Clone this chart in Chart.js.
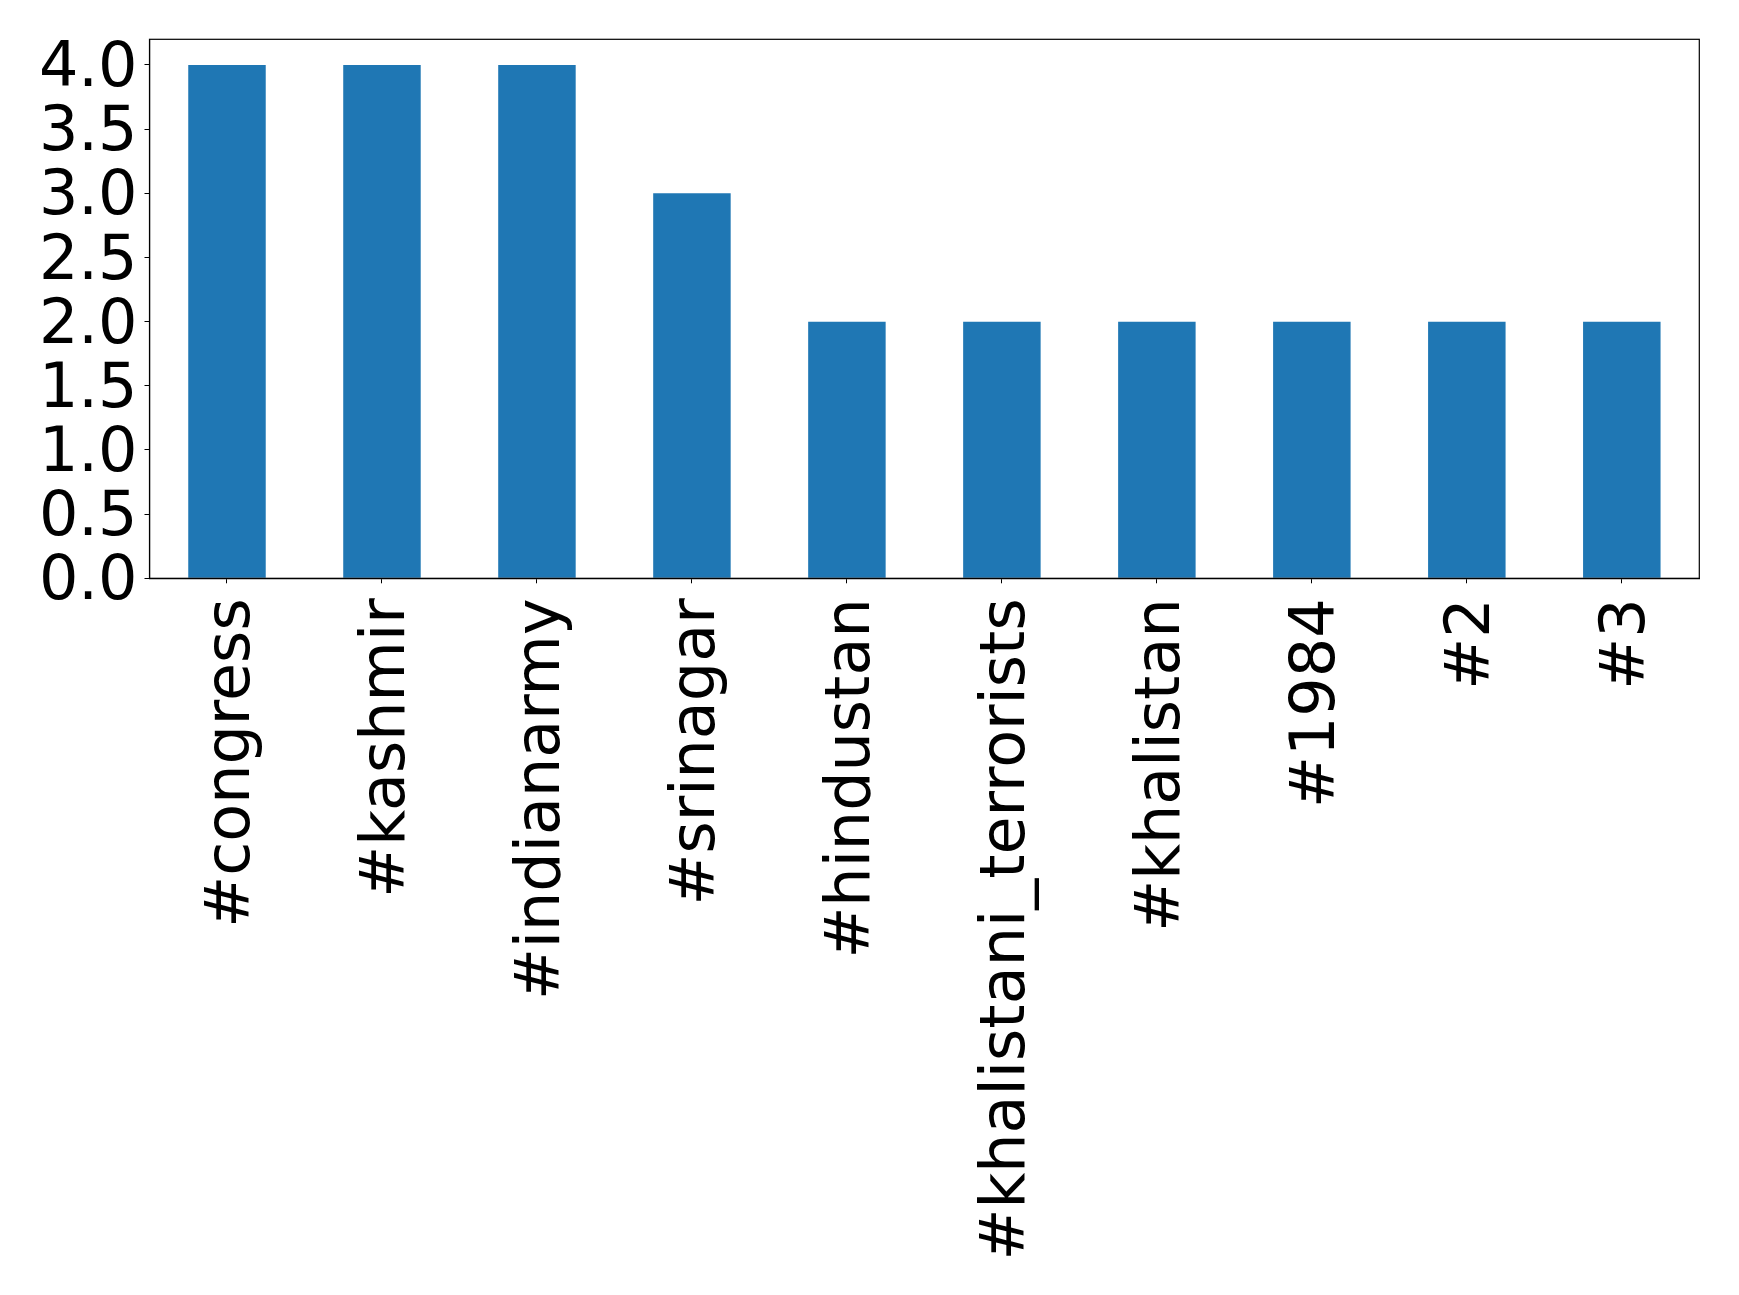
<!DOCTYPE html>
<html>
<head>
<meta charset="utf-8">
<script src="https://cdn.jsdelivr.net/npm/chart.js@4"></script>
<style>
  html, body { margin: 0; padding: 0; background: #ffffff; }
  #wrap { width: 1739px; height: 1295px; }
</style>
</head>
<body>
<div id="wrap"><canvas id="c" width="1739" height="1295"></canvas></div>
<script>
const categories = ["#congress", "#kashmir", "#indianarmy", "#srinagar", "#hindustan",
  "#khalistani_terrorists", "#khalistan", "#1984", "#2", "#3"];
const counts = [4, 4, 4, 3, 2, 2, 2, 2, 2, 2];
const yTicks = [0.0, 0.5, 1.0, 1.5, 2.0, 2.5, 3.0, 3.5, 4.0];

const FONT = { family: "'DejaVu Sans', sans-serif", size: 62 };

const framePlugin = {
  id: 'frame',
  afterDraw(chart) {
    const a = chart.chartArea, ctx = chart.ctx;
    ctx.save();
    ctx.strokeStyle = '#000';
    ctx.lineWidth = 1.2;
    ctx.strokeRect(a.left, a.top, a.right - a.left, a.bottom - a.top);
    ctx.restore();
  }
};

new Chart(document.getElementById('c'), {
  type: 'bar',
  data: {
    labels: categories,
    datasets: [{
      data: counts,
      backgroundColor: '#1f77b4',
      borderWidth: 0,
      barPercentage: 0.5,
      categoryPercentage: 1.0
    }]
  },
  options: {
    responsive: false,
    animation: false,
    devicePixelRatio: 1,
    layout: { padding: { top: 39.3, right: 39.7, bottom: 0, left: 0 } },
    plugins: { legend: { display: false }, tooltip: { enabled: false } },
    scales: {
      x: {
        grid: { display: true, offset: false, drawOnChartArea: false, drawTicks: true, tickLength: 5, color: '#000', tickColor: '#000' },
        border: { display: true, color: '#000', width: 1.2 },
        ticks: { color: '#000', font: FONT, maxRotation: 90, minRotation: 90, padding: 15, labelOffset: 6, autoSkip: false },
        afterFit(scale) { scale.height = 716.7; scale.paddingLeft = 0; scale.paddingRight = 0; }
      },
      y: {
        min: 0,
        max: 4.2,
        grid: { display: true, drawOnChartArea: false, drawTicks: true, tickLength: 5, color: '#000', tickColor: '#000' },
        border: { display: true, color: '#000', width: 1.2 },
        ticks: {
          color: '#000', font: FONT, stepSize: 0.5, includeBounds: false, padding: 7, labelOffset: 5, autoSkip: false,
          callback: (v) => Number(v).toFixed(1)
        },
        afterBuildTicks(scale) { scale.ticks = yTicks.map(v => ({ value: v })); },
        afterFit(scale) { scale.width = 149.5; scale.paddingTop = 0; scale.paddingBottom = 0; }
      }
    }
  },
  plugins: [framePlugin]
});
</script>
</body>
</html>
